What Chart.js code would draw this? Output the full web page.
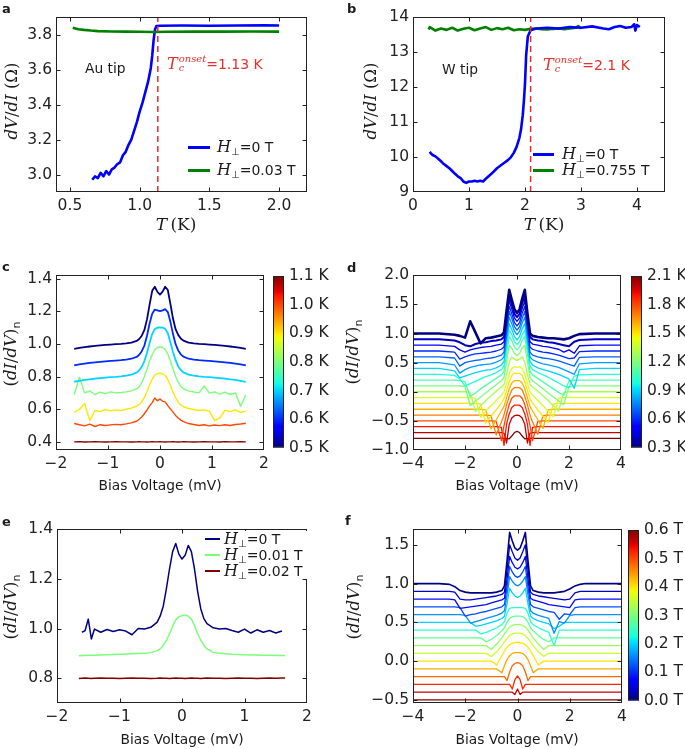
<!DOCTYPE html>
<html>
<head>
<meta charset="utf-8">
<script src="https://cdn.jsdelivr.net/npm/chart.js@4.4.1/dist/chart.umd.min.js"></script>
<style>
html, body { margin: 0; padding: 0; background: #fff; }
body { position: relative; width: 685px; height: 749px; overflow: hidden; font-family: "DejaVu Sans", sans-serif; color: #1a1a1a; }
canvas { position: absolute; }
.txt { position: absolute; white-space: nowrap; line-height: 1; font-size: 13.8px; }
.serif { font-family: "DejaVu Serif", serif; }
.mid { transform: translate(-50%, -50%); }
.lft { transform: translate(0, -50%); }
.rot { transform: translate(-50%, -50%) rotate(-90deg); }
.letter { font-weight: bold; font-size: 13px; }
.ylab { font-family: "DejaVu Serif", serif; font-size: 16.5px; }
.tlab { font-family: "DejaVu Serif", serif; font-size: 17px; }
.sn { font-family: "DejaVu Sans", sans-serif; font-size: 11px; position: relative; top: 4px; }
.perp { font-size: 10px; position: relative; top: 3px; }
.bigH { font-family: "DejaVu Serif", serif; font-size: 16px; }
.ss { display: inline-flex; flex-direction: column; font-family: "DejaVu Serif", serif; font-size: 10px; line-height: 9px; position: relative; top: -7px; margin-left: 1px; }
.red { color: #e8302a; font-size: 14px; }
.leg { font-size: 14px; }
</style>
</head>
<body>
<script>
// ---- panel a: Au tip, dV/dI vs T
const aTBlue = [0.66, 0.68, 0.70, 0.72, 0.74, 0.76, 0.78, 0.80, 0.82, 0.84, 0.86, 0.88, 0.90, 0.92, 0.94, 0.96, 0.98, 1.00, 1.02, 1.04, 1.06, 1.08, 1.09, 1.10, 1.11, 1.12, 1.15, 1.30, 1.50, 1.70, 1.90, 2.00];
const aBlue = [2.97, 2.99, 2.98, 3.01, 2.99, 3.02, 3.00, 3.03, 3.04, 3.06, 3.07, 3.11, 3.13, 3.17, 3.20, 3.25, 3.30, 3.36, 3.41, 3.47, 3.53, 3.61, 3.68, 3.77, 3.83, 3.85, 3.852, 3.853, 3.852, 3.853, 3.854, 3.853];
const aTGreen = [0.52, 0.54, 0.56, 0.60, 0.65, 0.70, 0.80, 0.90, 1.00, 1.10, 1.20, 1.40, 1.60, 1.80, 2.00];
const aGreen = [3.840, 3.836, 3.832, 3.828, 3.824, 3.821, 3.819, 3.818, 3.817, 3.816, 3.817, 3.818, 3.818, 3.819, 3.818];
const aTc = 1.13;
const aXTicks = [0.5, 1.0, 1.5, 2.0], aXLabels = ['0.5', '1.0', '1.5', '2.0'];
const aYTicks = [3.0, 3.2, 3.4, 3.6, 3.8], aYLabels = ['3.0', '3.2', '3.4', '3.6', '3.8'];

// ---- panel b: W tip
const bTBlue = [0.30, 0.32, 0.35, 0.40, 0.45, 0.50, 0.55, 0.60, 0.65, 0.70, 0.75, 0.80, 0.85, 0.90, 0.95, 1.00, 1.05, 1.10, 1.15, 1.20, 1.25, 1.30, 1.40, 1.50, 1.60, 1.65, 1.70, 1.75, 1.80, 1.85, 1.90, 1.93, 1.96, 1.98, 2.00, 2.02, 2.05, 2.10, 2.20, 2.40, 2.60, 2.80, 3.00, 3.20, 3.40, 3.50, 3.60, 3.70, 3.80, 3.90, 3.95, 3.97, 4.00, 4.05];
const bBlue = [10.15, 10.10, 10.06, 10.02, 9.95, 9.88, 9.80, 9.74, 9.68, 9.60, 9.52, 9.45, 9.40, 9.30, 9.26, 9.30, 9.30, 9.32, 9.30, 9.32, 9.30, 9.38, 9.52, 9.68, 9.80, 9.86, 9.92, 10.00, 10.12, 10.29, 10.55, 10.80, 11.20, 11.60, 12.10, 12.90, 13.45, 13.63, 13.68, 13.70, 13.68, 13.72, 13.70, 13.74, 13.68, 13.66, 13.72, 13.75, 13.70, 13.72, 13.80, 13.62, 13.78, 13.72];
const bTGreen = [0.28, 0.30, 0.40, 0.50, 0.60, 0.70, 0.80, 0.90, 1.00, 1.10, 1.20, 1.30, 1.40, 1.50, 1.60, 1.70, 1.80, 1.90, 2.00, 2.10, 2.20, 2.30, 2.40, 2.50, 2.60, 2.70, 2.80, 2.90, 2.95, 3.00];
const bGreen = [13.65, 13.72, 13.62, 13.68, 13.64, 13.70, 13.62, 13.67, 13.70, 13.63, 13.68, 13.72, 13.64, 13.69, 13.66, 13.70, 13.63, 13.66, 13.64, 13.67, 13.68, 13.66, 13.65, 13.67, 13.68, 13.66, 13.68, 13.70, 13.75, 13.68];
const bTc = 2.1;
const bXTicks = [0, 1, 2, 3, 4], bXLabels = ['0', '1', '2', '3', '4'];
const bYTicks = [9, 10, 11, 12, 13, 14], bYLabels = ['9', '10', '11', '12', '13', '14'];

// ---- panel c: spectra vs temperature (Au tip)
const cTemps = [0.5, 0.6, 0.7, 0.8, 0.9, 1.0, 1.1];
const cBias = [-1.65, -1.55, -1.45, -1.35, -1.25, -1.15, -1.05, -0.95, -0.85, -0.75, -0.65, -0.55, -0.45, -0.4, -0.35, -0.3, -0.25, -0.2, -0.15, -0.1, -0.05, 0, 0.05, 0.1, 0.15, 0.2, 0.25, 0.3, 0.35, 0.4, 0.45, 0.55, 0.65, 0.75, 0.85, 0.95, 1.05, 1.15, 1.25, 1.35, 1.45, 1.55, 1.65];
const cCurves = [
  [0.970, 0.975, 0.980, 0.984, 0.988, 0.991, 0.994, 0.996, 0.998, 1.000, 1.003, 1.008, 1.018, 1.030, 1.050, 1.085, 1.150, 1.240, 1.325, 1.350, 1.318, 1.302, 1.320, 1.350, 1.330, 1.245, 1.155, 1.090, 1.055, 1.033, 1.020, 1.008, 1.003, 1.000, 0.998, 0.996, 0.994, 0.991, 0.988, 0.984, 0.980, 0.975, 0.969],
  [0.868, 0.874, 0.879, 0.883, 0.887, 0.890, 0.893, 0.896, 0.898, 0.900, 0.903, 0.909, 0.920, 0.933, 0.955, 0.990, 1.050, 1.125, 1.185, 1.210, 1.205, 1.200, 1.205, 1.213, 1.195, 1.135, 1.060, 0.998, 0.960, 0.936, 0.922, 0.909, 0.903, 0.900, 0.898, 0.896, 0.893, 0.890, 0.887, 0.883, 0.879, 0.874, 0.868],
  [0.768, 0.774, 0.779, 0.783, 0.787, 0.790, 0.793, 0.796, 0.798, 0.801, 0.805, 0.812, 0.824, 0.838, 0.860, 0.895, 0.945, 1.005, 1.060, 1.090, 1.100, 1.101, 1.100, 1.092, 1.065, 1.010, 0.950, 0.900, 0.862, 0.840, 0.825, 0.812, 0.805, 0.801, 0.798, 0.796, 0.793, 0.790, 0.787, 0.783, 0.779, 0.774, 0.767],
  [0.688, 0.795, 0.700, 0.712, 0.690, 0.704, 0.695, 0.706, 0.700, 0.702, 0.706, 0.712, 0.724, 0.738, 0.762, 0.800, 0.845, 0.895, 0.935, 0.964, 0.978, 0.981, 0.978, 0.966, 0.938, 0.895, 0.848, 0.802, 0.765, 0.740, 0.725, 0.712, 0.705, 0.700, 0.742, 0.698, 0.706, 0.692, 0.704, 0.690, 0.700, 0.618, 0.688],
  [0.580, 0.598, 0.635, 0.530, 0.592, 0.585, 0.598, 0.590, 0.596, 0.592, 0.600, 0.606, 0.618, 0.628, 0.645, 0.672, 0.708, 0.748, 0.785, 0.808, 0.818, 0.820, 0.817, 0.806, 0.782, 0.745, 0.705, 0.670, 0.643, 0.626, 0.615, 0.604, 0.598, 0.592, 0.596, 0.588, 0.530, 0.545, 0.594, 0.585, 0.596, 0.580, 0.588],
  [0.512, 0.505, 0.498, 0.508, 0.494, 0.505, 0.500, 0.504, 0.507, 0.505, 0.510, 0.516, 0.526, 0.538, 0.552, 0.572, 0.595, 0.620, 0.640, 0.668, 0.652, 0.662, 0.648, 0.645, 0.622, 0.602, 0.582, 0.562, 0.546, 0.533, 0.524, 0.512, 0.506, 0.500, 0.505, 0.498, 0.503, 0.499, 0.505, 0.500, 0.506, 0.509, 0.514],
  [0.400, 0.401, 0.399, 0.400, 0.401, 0.400, 0.399, 0.400, 0.401, 0.400, 0.400, 0.399, 0.400, 0.401, 0.400, 0.400, 0.399, 0.400, 0.401, 0.400, 0.400, 0.401, 0.400, 0.399, 0.400, 0.400, 0.401, 0.400, 0.399, 0.400, 0.401, 0.400, 0.399, 0.400, 0.401, 0.400, 0.400, 0.399, 0.401, 0.400, 0.400, 0.401, 0.400]
];
const cXTicks = [-2, -1, 0, 1, 2], cXLabels = ['\u22122', '\u22121', '0', '1', '2'];
const cYTicks = [0.4, 0.6, 0.8, 1.0, 1.2, 1.4], cYLabels = ['0.4', '0.6', '0.8', '1.0', '1.2', '1.4'];
const cBarTicks = [0.5, 0.6, 0.7, 0.8, 0.9, 1.0, 1.1], cBarLabels = ['0.5 K', '0.6 K', '0.7 K', '0.8 K', '0.9 K', '1.0 K', '1.1 K'];

// ---- panel d: spectra vs temperature (W tip), offset curves
const dTemps = [0.3, 0.4, 0.5, 0.6, 0.7, 0.8, 0.9, 1.0, 1.1, 1.2, 1.3, 1.4, 1.5, 1.6, 1.7, 1.8, 1.9, 2.0, 2.1];
const dBias = [-4, -3, -2.4, -2.2, -2.0, -1.8, -1.6, -1.4, -1.2, -1.0, -0.8, -0.6, -0.5, -0.4, -0.3, -0.2, -0.1, 0, 0.1, 0.2, 0.3, 0.4, 0.5, 0.6, 0.8, 1.0, 1.2, 1.4, 1.6, 1.8, 2.0, 2.2, 2.4, 3, 4];
const dCurves = [
  [1.00, 1.00, 0.98, 0.96, 0.93, 1.21, 1.02, 0.83, 0.92, 0.93, 0.95, 0.97, 1.02, 1.40, 1.75, 1.58, 1.42, 1.35, 1.42, 1.60, 1.75, 1.35, 1.00, 0.96, 0.94, 0.93, 0.92, 0.92, 0.91, 0.90, 0.92, 0.96, 0.99, 1.00, 1.00],
  [0.90, 0.90, 0.88, 0.85, 0.80, 0.78, 0.82, 0.84, 0.85, 0.87, 0.88, 0.90, 0.94, 1.30, 1.65, 1.50, 1.34, 1.28, 1.34, 1.52, 1.65, 1.28, 0.94, 0.90, 0.88, 0.87, 0.85, 0.84, 0.82, 0.80, 0.78, 0.86, 0.89, 0.90, 0.90],
  [0.80, 0.80, 0.78, 0.72, 0.68, 0.72, 0.74, 0.76, 0.77, 0.78, 0.80, 0.82, 0.86, 1.22, 1.56, 1.42, 1.27, 1.21, 1.27, 1.43, 1.56, 1.20, 0.86, 0.82, 0.80, 0.78, 0.77, 0.75, 0.73, 0.68, 0.72, 0.66, 0.79, 0.80, 0.80],
  [0.70, 0.70, 0.68, 0.56, 0.60, 0.63, 0.65, 0.66, 0.67, 0.68, 0.70, 0.73, 0.77, 1.12, 1.47, 1.34, 1.19, 1.13, 1.19, 1.35, 1.47, 1.12, 0.77, 0.73, 0.70, 0.68, 0.67, 0.65, 0.63, 0.60, 0.57, 0.58, 0.69, 0.70, 0.70],
  [0.60, 0.60, 0.58, 0.44, 0.50, 0.52, 0.54, 0.55, 0.57, 0.58, 0.60, 0.63, 0.68, 1.03, 1.38, 1.26, 1.12, 1.06, 1.12, 1.26, 1.38, 1.03, 0.68, 0.63, 0.60, 0.58, 0.57, 0.55, 0.53, 0.50, 0.47, 0.44, 0.59, 0.60, 0.60],
  [0.50, 0.50, 0.46, 0.32, 0.38, 0.42, 0.44, 0.46, 0.47, 0.48, 0.51, 0.55, 0.60, 0.94, 1.28, 1.17, 1.04, 0.98, 1.04, 1.18, 1.28, 0.94, 0.60, 0.55, 0.51, 0.48, 0.46, 0.44, 0.42, 0.38, 0.34, 0.30, 0.48, 0.50, 0.50],
  [0.40, 0.40, 0.36, 0.24, 0.27, 0.30, 0.33, 0.35, 0.37, 0.38, 0.41, 0.46, 0.52, 0.85, 1.17, 1.07, 0.95, 0.89, 0.95, 1.08, 1.17, 0.85, 0.52, 0.46, 0.41, 0.38, 0.36, 0.33, 0.30, 0.26, 0.22, 0.06, 0.38, 0.40, 0.40],
  [0.30, 0.30, 0.28, 0.22, 0.10, 0.14, 0.18, 0.22, 0.26, 0.29, 0.33, 0.38, 0.44, 0.76, 1.06, 0.98, 0.86, 0.81, 0.86, 0.98, 1.06, 0.76, 0.44, 0.38, 0.33, 0.29, 0.25, 0.20, 0.15, 0.10, 0.07, 0.27, 0.29, 0.30, 0.30],
  [0.20, 0.20, 0.20, 0.19, 0.17, -0.08, -0.02, 0.05, 0.11, 0.17, 0.23, 0.29, 0.35, 0.66, 0.95, 0.88, 0.77, 0.72, 0.77, 0.88, 0.95, 0.66, 0.35, 0.29, 0.23, 0.17, 0.11, 0.05, -0.01, -0.06, 0.19, 0.20, 0.20, 0.20, 0.20],
  [0.10, 0.10, 0.10, 0.10, 0.09, -0.24, -0.16, -0.09, -0.02, 0.05, 0.12, 0.19, 0.25, 0.52, 0.80, 0.75, 0.66, 0.62, 0.66, 0.75, 0.80, 0.52, 0.25, 0.19, 0.12, 0.05, -0.02, -0.09, -0.16, -0.22, 0.09, 0.10, 0.10, 0.10, 0.10],
  [0.00, 0.00, 0.00, 0.00, 0.00, -0.01, -0.34, -0.24, -0.15, -0.07, 0.01, 0.08, 0.13, 0.30, 0.50, 0.60, 0.56, 0.54, 0.56, 0.60, 0.50, 0.30, 0.13, 0.08, 0.01, -0.07, -0.15, -0.24, -0.33, -0.01, 0.00, 0.00, 0.00, 0.00, 0.00],
  [-0.10, -0.10, -0.10, -0.10, -0.10, -0.10, -0.11, -0.44, -0.33, -0.24, -0.15, -0.06, 0.00, 0.14, 0.30, 0.40, 0.43, 0.42, 0.43, 0.40, 0.30, 0.14, 0.00, -0.06, -0.15, -0.24, -0.33, -0.43, -0.11, -0.10, -0.10, -0.10, -0.10, -0.10, -0.10],
  [-0.20, -0.20, -0.20, -0.20, -0.20, -0.20, -0.20, -0.21, -0.54, -0.42, -0.31, -0.19, -0.12, 0.02, 0.17, 0.28, 0.32, 0.31, 0.32, 0.28, 0.17, 0.02, -0.12, -0.19, -0.31, -0.42, -0.53, -0.21, -0.20, -0.20, -0.20, -0.20, -0.20, -0.20, -0.20],
  [-0.30, -0.30, -0.30, -0.30, -0.30, -0.30, -0.30, -0.30, -0.31, -0.64, -0.48, -0.33, -0.25, -0.10, 0.05, 0.15, 0.19, 0.19, 0.19, 0.15, 0.05, -0.10, -0.25, -0.33, -0.48, -0.63, -0.31, -0.30, -0.30, -0.30, -0.30, -0.30, -0.30, -0.30, -0.30],
  [-0.40, -0.40, -0.40, -0.40, -0.40, -0.40, -0.40, -0.40, -0.40, -0.41, -0.74, -0.52, -0.40, -0.22, -0.08, 0.03, 0.07, 0.07, 0.07, 0.03, -0.08, -0.22, -0.40, -0.52, -0.73, -0.41, -0.40, -0.40, -0.40, -0.40, -0.40, -0.40, -0.40, -0.40, -0.40],
  [-0.50, -0.50, -0.50, -0.50, -0.50, -0.50, -0.50, -0.50, -0.50, -0.50, -0.51, -0.84, -0.58, -0.38, -0.22, -0.11, -0.07, -0.07, -0.07, -0.11, -0.22, -0.38, -0.58, -0.84, -0.51, -0.50, -0.50, -0.50, -0.50, -0.50, -0.50, -0.50, -0.50, -0.50, -0.50],
  [-0.60, -0.60, -0.60, -0.60, -0.60, -0.60, -0.60, -0.60, -0.60, -0.60, -0.60, -0.61, -0.92, -0.55, -0.38, -0.27, -0.23, -0.23, -0.23, -0.27, -0.38, -0.55, -0.92, -0.61, -0.60, -0.60, -0.60, -0.60, -0.60, -0.60, -0.60, -0.60, -0.60, -0.60, -0.60],
  [-0.70, -0.70, -0.70, -0.70, -0.70, -0.70, -0.70, -0.70, -0.70, -0.70, -0.70, -0.70, -0.71, -0.88, -0.56, -0.45, -0.41, -0.40, -0.41, -0.45, -0.56, -0.88, -0.71, -0.70, -0.70, -0.70, -0.70, -0.70, -0.70, -0.70, -0.70, -0.70, -0.70, -0.70, -0.70],
  [-0.80, -0.80, -0.80, -0.80, -0.80, -0.80, -0.80, -0.80, -0.80, -0.80, -0.80, -0.80, -0.80, -0.80, -0.81, -0.76, -0.70, -0.68, -0.70, -0.76, -0.81, -0.80, -0.80, -0.80, -0.80, -0.80, -0.80, -0.80, -0.80, -0.80, -0.80, -0.80, -0.80, -0.80, -0.80]
];
const dXTicks = [-4, -2, 0, 2, 4], dXLabels = ['\u22124', '\u22122', '0', '2', '4'];
const dYTicks = [-1.0, -0.5, 0.0, 0.5, 1.0, 1.5, 2.0], dYLabels = ['\u22121.0', '\u22120.5', '0.0', '0.5', '1.0', '1.5', '2.0'];
const dBarTicks = [0.3, 0.6, 0.9, 1.2, 1.5, 1.8, 2.1], dBarLabels = ['0.3 K', '0.6 K', '0.9 K', '1.2 K', '1.5 K', '1.8 K', '2.1 K'];

// ---- panel e: spectra vs field (Au tip)
const eFields = [0, 0.01, 0.02];
const eNames = ['=0 T', '=0.01 T', '=0.02 T'];
const eBias = [-1.65, -1.6, -1.55, -1.5, -1.45, -1.4, -1.3, -1.2, -1.1, -1.0, -0.9, -0.8, -0.7, -0.6, -0.5, -0.4, -0.35, -0.3, -0.25, -0.2, -0.15, -0.1, -0.05, 0, 0.05, 0.1, 0.15, 0.2, 0.25, 0.3, 0.35, 0.4, 0.5, 0.6, 0.7, 0.8, 0.9, 1.0, 1.1, 1.2, 1.3, 1.4, 1.5, 1.6, 1.65];
const eCurves = [
  [null, 0.985, 0.992, 1.038, 0.958, 0.998, 0.985, 0.996, 0.988, 0.995, 0.990, 0.975, 1.000, 0.998, 1.005, 1.025, 1.050, 1.090, 1.160, 1.240, 1.310, 1.343, 1.300, 1.280, 1.295, 1.335, 1.310, 1.240, 1.150, 1.080, 1.040, 1.020, 1.003, 0.998, 1.000, 0.992, 0.985, 0.998, 0.982, 0.995, 0.985, 0.992, 0.982, 0.990, null],
  [0.890, 0.891, 0.891, 0.892, 0.892, 0.892, 0.893, 0.894, 0.895, 0.896, 0.897, 0.898, 0.899, 0.900, 0.903, 0.910, 0.918, 0.932, 0.952, 0.978, 1.010, 1.035, 1.048, 1.052, 1.055, 1.050, 1.038, 1.012, 0.980, 0.953, 0.933, 0.918, 0.904, 0.900, 0.898, 0.896, 0.895, 0.894, 0.893, 0.893, 0.892, 0.892, 0.891, 0.891, 0.891],
  [0.799, 0.800, 0.801, 0.800, 0.799, 0.800, 0.801, 0.800, 0.800, 0.799, 0.800, 0.801, 0.800, 0.800, 0.799, 0.800, 0.801, 0.800, 0.800, 0.799, 0.800, 0.801, 0.800, 0.800, 0.799, 0.800, 0.801, 0.800, 0.800, 0.799, 0.800, 0.801, 0.800, 0.800, 0.799, 0.800, 0.801, 0.800, 0.800, 0.799, 0.800, 0.801, 0.800, 0.801, 0.801]
];
const eXTicks = [-2, -1, 0, 1, 2], eXLabels = ['\u22122', '\u22121', '0', '1', '2'];
const eYTicks = [0.8, 1.0, 1.2, 1.4], eYLabels = ['0.8', '1.0', '1.2', '1.4'];

// ---- panel f: spectra vs field (W tip), offset curves
const fFields = [0, 0.04, 0.08, 0.12, 0.16, 0.20, 0.24, 0.28, 0.32, 0.36, 0.40, 0.44, 0.48, 0.52, 0.56, 0.60];
const fBias = [-4, -3, -2.6, -2.4, -2.2, -2.0, -1.8, -1.6, -1.4, -1.2, -1.0, -0.8, -0.6, -0.5, -0.4, -0.3, -0.2, -0.1, 0, 0.1, 0.2, 0.3, 0.4, 0.5, 0.6, 0.8, 1.0, 1.2, 1.4, 1.6, 1.8, 2.0, 2.2, 2.4, 2.6, 3, 4];
const fCurves = [
  [1.00, 1.00, 0.99, 0.96, 0.91, 0.89, 0.88, 0.88, 0.88, 0.88, 0.88, 0.89, 0.91, 0.97, 1.30, 1.66, 1.55, 1.46, 1.43, 1.46, 1.55, 1.66, 1.30, 0.97, 0.91, 0.89, 0.88, 0.88, 0.88, 0.89, 0.90, 0.93, 0.97, 0.99, 1.00, 1.00, 1.00],
  [0.90, 0.90, 0.90, 0.89, 0.80, 0.79, 0.79, 0.80, 0.81, 0.82, 0.83, 0.84, 0.86, 0.89, 1.18, 1.50, 1.41, 1.33, 1.30, 1.33, 1.41, 1.50, 1.18, 0.89, 0.86, 0.84, 0.83, 0.82, 0.81, 0.80, 0.79, 0.80, 0.88, 0.90, 0.90, 0.90, 0.90],
  [0.80, 0.80, 0.80, 0.79, 0.68, 0.69, 0.70, 0.71, 0.72, 0.73, 0.75, 0.77, 0.79, 0.81, 1.06, 1.35, 1.27, 1.21, 1.19, 1.21, 1.27, 1.35, 1.06, 0.81, 0.79, 0.77, 0.75, 0.73, 0.72, 0.71, 0.70, 0.69, 0.79, 0.80, 0.80, 0.80, 0.80],
  [0.70, 0.70, 0.70, 0.70, 0.69, 0.58, 0.60, 0.61, 0.63, 0.64, 0.66, 0.68, 0.70, 0.73, 0.95, 1.22, 1.15, 1.10, 1.08, 1.10, 1.15, 1.22, 0.95, 0.73, 0.70, 0.68, 0.66, 0.64, 0.63, 0.54, 0.61, 0.60, 0.69, 0.70, 0.70, 0.70, 0.70],
  [0.60, 0.60, 0.60, 0.60, 0.60, 0.59, 0.49, 0.51, 0.53, 0.55, 0.57, 0.59, 0.62, 0.65, 0.85, 1.09, 1.03, 0.99, 0.97, 0.99, 1.03, 1.09, 0.85, 0.65, 0.62, 0.59, 0.57, 0.55, 0.36, 0.51, 0.49, 0.59, 0.60, 0.60, 0.60, 0.60, 0.60],
  [0.50, 0.50, 0.50, 0.50, 0.50, 0.50, 0.50, 0.45, 0.46, 0.48, 0.50, 0.52, 0.55, 0.58, 0.74, 0.94, 0.88, 0.84, 0.82, 0.84, 0.88, 0.94, 0.74, 0.58, 0.55, 0.52, 0.50, 0.48, 0.42, 0.45, 0.50, 0.50, 0.50, 0.50, 0.50, 0.50, 0.50],
  [0.40, 0.40, 0.40, 0.40, 0.40, 0.40, 0.40, 0.40, 0.35, 0.37, 0.40, 0.43, 0.47, 0.51, 0.62, 0.68, 0.69, 0.69, 0.69, 0.69, 0.69, 0.68, 0.62, 0.51, 0.47, 0.43, 0.40, 0.37, 0.20, 0.40, 0.40, 0.40, 0.40, 0.40, 0.40, 0.40, 0.40],
  [0.30, 0.30, 0.30, 0.30, 0.30, 0.30, 0.30, 0.30, 0.30, 0.25, 0.28, 0.33, 0.39, 0.43, 0.50, 0.55, 0.57, 0.58, 0.58, 0.58, 0.57, 0.55, 0.50, 0.43, 0.39, 0.33, 0.28, 0.25, 0.30, 0.30, 0.30, 0.30, 0.30, 0.30, 0.30, 0.30, 0.30],
  [0.20, 0.20, 0.20, 0.20, 0.20, 0.20, 0.20, 0.20, 0.20, 0.20, 0.15, 0.22, 0.30, 0.35, 0.40, 0.44, 0.46, 0.47, 0.47, 0.47, 0.46, 0.44, 0.40, 0.35, 0.30, 0.22, 0.15, 0.20, 0.20, 0.20, 0.20, 0.20, 0.20, 0.20, 0.20, 0.20, 0.20],
  [0.10, 0.10, 0.10, 0.10, 0.10, 0.10, 0.10, 0.10, 0.10, 0.10, 0.06, 0.12, 0.20, 0.25, 0.29, 0.33, 0.35, 0.36, 0.36, 0.36, 0.35, 0.33, 0.29, 0.25, 0.20, 0.12, 0.06, 0.10, 0.10, 0.10, 0.10, 0.10, 0.10, 0.10, 0.10, 0.10, 0.10],
  [0.00, 0.00, 0.00, 0.00, 0.00, 0.00, 0.00, 0.00, 0.00, 0.00, 0.00, -0.05, 0.07, 0.13, 0.18, 0.21, 0.23, 0.24, 0.24, 0.24, 0.23, 0.21, 0.18, 0.13, 0.07, -0.05, 0.00, 0.00, 0.00, 0.00, 0.00, 0.00, 0.00, 0.00, 0.00, 0.00, 0.00],
  [-0.10, -0.10, -0.10, -0.10, -0.10, -0.10, -0.10, -0.10, -0.10, -0.10, -0.10, -0.10, -0.15, -0.06, 0.02, 0.07, 0.10, 0.11, 0.11, 0.11, 0.10, 0.07, 0.02, -0.06, -0.15, -0.10, -0.10, -0.10, -0.10, -0.10, -0.10, -0.10, -0.10, -0.10, -0.10, -0.10, -0.10],
  [-0.20, -0.20, -0.20, -0.20, -0.20, -0.20, -0.20, -0.20, -0.20, -0.20, -0.20, -0.20, -0.20, -0.20, -0.25, -0.14, -0.06, -0.03, -0.02, -0.03, -0.06, -0.14, -0.25, -0.20, -0.20, -0.20, -0.20, -0.20, -0.20, -0.20, -0.20, -0.20, -0.20, -0.20, -0.20, -0.20, -0.20],
  [-0.30, -0.30, -0.30, -0.30, -0.30, -0.30, -0.30, -0.30, -0.30, -0.30, -0.30, -0.30, -0.30, -0.30, -0.30, -0.30, -0.36, -0.24, -0.19, -0.24, -0.36, -0.30, -0.30, -0.30, -0.30, -0.30, -0.30, -0.30, -0.30, -0.30, -0.30, -0.30, -0.30, -0.30, -0.30, -0.30, -0.30],
  [-0.40, -0.40, -0.40, -0.40, -0.40, -0.40, -0.40, -0.40, -0.40, -0.40, -0.40, -0.40, -0.40, -0.40, -0.40, -0.40, -0.40, -0.43, -0.36, -0.43, -0.40, -0.40, -0.40, -0.40, -0.40, -0.40, -0.40, -0.40, -0.40, -0.40, -0.40, -0.40, -0.40, -0.40, -0.40, -0.40, -0.40],
  [-0.50, -0.50, -0.50, -0.50, -0.50, -0.50, -0.50, -0.50, -0.50, -0.50, -0.50, -0.50, -0.50, -0.50, -0.50, -0.50, -0.50, -0.50, -0.50, -0.50, -0.50, -0.50, -0.50, -0.50, -0.50, -0.50, -0.50, -0.50, -0.50, -0.50, -0.50, -0.50, -0.50, -0.50, -0.50, -0.50, -0.50]
];
const fXTicks = [-4, -2, 0, 2, 4], fXLabels = ['\u22124', '\u22122', '0', '2', '4'];
const fYTicks = [-0.5, 0.0, 0.5, 1.0, 1.5], fYLabels = ['\u22120.5', '0.0', '0.5', '1.0', '1.5'];
const fBarTicks = [0, 0.1, 0.2, 0.3, 0.4, 0.5, 0.6], fBarLabels = ['0.0 T', '0.1 T', '0.2 T', '0.3 T', '0.4 T', '0.5 T', '0.6 T'];

// ---- layout (pixel rectangles of plot areas: left, top, right, bottom)
const PAD = {l: 54, t: 12, r: 18, b: 30};
const INK = '#222222';
const TICK_FONT = {family: 'DejaVu Sans', size: 15.5};

// matplotlib "jet" colormap
function jet(v) {
  const seg = {
    r: [[0, 0], [0.35, 0], [0.66, 1], [0.89, 1], [1, 0.5]],
    g: [[0, 0], [0.125, 0], [0.375, 1], [0.64, 1], [0.91, 0], [1, 0]],
    b: [[0, 0.5], [0.11, 1], [0.34, 1], [0.65, 0], [1, 0]]
  };
  function ch(s) {
    for (let k = 1; k < s.length; k++) {
      if (v <= s[k][0]) {
        const t = (v - s[k - 1][0]) / (s[k][0] - s[k - 1][0]);
        return s[k - 1][1] + t * (s[k][1] - s[k - 1][1]);
      }
    }
    return s[s.length - 1][1];
  }
  return 'rgb(' + Math.round(255 * ch(seg.r)) + ',' + Math.round(255 * ch(seg.g)) + ',' + Math.round(255 * ch(seg.b)) + ')';
}

// frame with inward ticks on all four sides (classic matplotlib look)
const framePlugin = {
  id: 'frame',
  afterDatasetsDraw(chart) {
    const ctx = chart.ctx, a = chart.chartArea, sx = chart.scales.x, sy = chart.scales.y;
    const L = Math.round(a.left) + 0.5, R = Math.round(a.right) - 0.5, T = Math.round(a.top) + 0.5, B = Math.round(a.bottom) - 0.5;
    const tl = 4;
    ctx.save();
    ctx.strokeStyle = INK;
    ctx.lineWidth = 1;
    ctx.strokeRect(L, T, R - L, B - T);
    ctx.beginPath();
    sx.ticks.forEach(function (t) {
      const px = Math.round(sx.getPixelForValue(t.value)) + 0.5;
      if (px <= L + 1 || px >= R - 1) return;
      ctx.moveTo(px, B); ctx.lineTo(px, B - tl);
      ctx.moveTo(px, T); ctx.lineTo(px, T + tl);
    });
    sy.ticks.forEach(function (t) {
      const py = Math.round(sy.getPixelForValue(t.value)) + 0.5;
      if (py <= T + 1 || py >= B - 1) return;
      ctx.moveTo(L, py); ctx.lineTo(L + tl, py);
      ctx.moveTo(R, py); ctx.lineTo(R - tl, py);
    });
    ctx.stroke();
    ctx.restore();
  }
};

// vertical jet gradient for colorbars
const barPlugin = {
  id: 'jetbar',
  beforeDatasetsDraw(chart) {
    const ctx = chart.ctx, a = chart.chartArea;
    const g = ctx.createLinearGradient(0, a.bottom, 0, a.top);
    for (let k = 0; k <= 64; k++) g.addColorStop(k / 64, jet(k / 64));
    ctx.save();
    ctx.fillStyle = g;
    ctx.fillRect(a.left, a.top, a.right - a.left, a.bottom - a.top);
    ctx.strokeStyle = INK;
    ctx.lineWidth = 1;
    ctx.strokeRect(Math.round(a.left) + 0.5, Math.round(a.top) + 0.5, Math.round(a.right - a.left) - 1, Math.round(a.bottom - a.top) - 1);
    ctx.restore();
  }
};

function series(xs, ys, color, width, extra) {
  return Object.assign({
    data: xs.map(function (x, i) { return {x: x, y: ys[i]}; }),
    borderColor: color,
    borderWidth: width,
    pointRadius: 0,
    fill: false
  }, extra || {});
}

function makeCanvas(left, top, w, h) {
  const cv = document.createElement('canvas');
  cv.width = w; cv.height = h;
  cv.style.left = left + 'px';
  cv.style.top = top + 'px';
  document.body.appendChild(cv);
  return cv;
}

function panel(rect, xr, yr, xTicks, xLabels, yTicks, yLabels, datasets) {
  const w = rect[2] - rect[0], h = rect[3] - rect[1];
  const cv = makeCanvas(rect[0] - PAD.l, rect[1] - PAD.t, w + PAD.l + PAD.r, h + PAD.t + PAD.b);
  return new Chart(cv, {
    type: 'line',
    data: {datasets: datasets},
    options: {
      responsive: false, animation: false, devicePixelRatio: 1, events: [],
      layout: {padding: {left: 0, top: PAD.t, right: PAD.r, bottom: 0}},
      plugins: {legend: {display: false}, tooltip: {enabled: false}},
      elements: {line: {tension: 0, borderJoinStyle: 'round'}, point: {radius: 0}},
      scales: {
        x: {
          type: 'linear', min: xr[0], max: xr[1],
          afterBuildTicks: function (s) { s.ticks = xTicks.map(function (v) { return {value: v}; }); },
          afterFit: function (s) { s.height = PAD.b; },
          grid: {display: false, drawTicks: false}, border: {display: false},
          ticks: {font: TICK_FONT, color: INK, padding: 5, maxRotation: 0, autoSkip: false,
                  callback: function (v, i) { return xLabels[i]; }}
        },
        y: {
          type: 'linear', min: yr[0], max: yr[1],
          afterBuildTicks: function (s) { s.ticks = yTicks.map(function (v) { return {value: v}; }); },
          afterFit: function (s) { s.width = PAD.l; },
          grid: {display: false, drawTicks: false}, border: {display: false},
          ticks: {font: TICK_FONT, color: INK, padding: 4, autoSkip: false,
                  callback: function (v, i) { return yLabels[i]; }}
        }
      }
    },
    plugins: [framePlugin]
  });
}

function colorbar(rect, range, ticks, labels) {
  const w = rect[2] - rect[0], h = rect[3] - rect[1];
  const right = 56;
  const cv = makeCanvas(rect[0] - 2, rect[1] - 12, w + 2 + right, h + 24);
  return new Chart(cv, {
    type: 'line',
    data: {datasets: [{data: []}]},
    options: {
      responsive: false, animation: false, devicePixelRatio: 1, events: [],
      layout: {padding: {left: 2, top: 12, right: 0, bottom: 12}},
      plugins: {legend: {display: false}, tooltip: {enabled: false}},
      scales: {
        x: {type: 'linear', display: false, min: 0, max: 1},
        y: {
          type: 'linear', position: 'right', min: range[0], max: range[1],
          afterBuildTicks: function (s) { s.ticks = ticks.map(function (v) { return {value: v}; }); },
          afterFit: function (s) { s.width = right; },
          grid: {display: false, drawTicks: false}, border: {display: false},
          ticks: {font: TICK_FONT, color: INK, padding: 5, autoSkip: false,
                  callback: function (v, i) { return labels[i]; }}
        }
      }
    },
    plugins: [barPlugin]
  });
}

function addText(html, x, y, cls) {
  const el = document.createElement('div');
  el.className = 'txt ' + cls;
  el.style.left = x + 'px';
  el.style.top = y + 'px';
  el.innerHTML = html;
  document.body.appendChild(el);
  return el;
}

function legendLine(x1, x2, y, color, width) {
  const el = document.createElement('div');
  el.style.cssText = 'position:absolute;left:' + x1 + 'px;top:' + (y - width / 2) + 'px;width:' + (x2 - x1) + 'px;height:' + width + 'px;background:' + color;
  document.body.appendChild(el);
}

const BLUE = '#0000ff', GREEN = '#008000', RED = '#ee2a2a';

// ---- a
panel([56, 16, 307, 192], [0.4, 2.2], [2.9, 3.9], aXTicks, aXLabels, aYTicks, aYLabels, [
  series([aTc, aTc], [2.9, 3.9], RED, 1.5, {borderDash: [6, 4], order: 0}),
  series(aTGreen, aGreen, GREEN, 2.6, {order: 1}),
  series(aTBlue, aBlue, BLUE, 2.6, {order: 2})
]);
// ---- b
panel([413, 16, 665, 192], [0, 4.5], [9, 14], bXTicks, bXLabels, bYTicks, bYLabels, [
  series([bTc, bTc], [9, 14], RED, 1.5, {borderDash: [6, 4], order: 0}),
  series(bTGreen, bGreen, GREEN, 2.6, {order: 2}),
  series(bTBlue, bBlue, BLUE, 2.6, {order: 1})
]);
// ---- c
panel([56, 274, 264, 450], [-2, 2], [0.35, 1.42], cXTicks, cXLabels, cYTicks, cYLabels,
  cCurves.map(function (ys, i) {
    return series(cBias, ys, jet((cTemps[i] - 0.5) / 0.6), i < 3 ? 1.8 : 1.4);
  }));
colorbar([273, 274, 284, 450], [0.5, 1.1], cBarTicks, cBarLabels);
// ---- d
panel([413, 274, 621, 450], [-4, 4], [-1.0, 2.0], dXTicks, dXLabels, dYTicks, dYLabels,
  dCurves.map(function (ys, i) {
    return series(dBias, ys, jet((dTemps[i] - 0.3) / 1.8), i === 0 ? 2.6 : (i === 1 ? 2.0 : 1.3));
  }));
colorbar([631, 274, 642, 450], [0.3, 2.1], dBarTicks, dBarLabels);
// ---- e
panel([57, 528, 307, 703], [-2, 2], [0.7, 1.4], eXTicks, eXLabels, eYTicks, eYLabels,
  eCurves.map(function (ys, i) {
    return series(eBias, ys, jet(eFields[i] / 0.02), 1.5);
  }));
// ---- f
panel([413, 528, 622, 703], [-4, 4], [-0.54, 1.7], fXTicks, fXLabels, fYTicks, fYLabels,
  fCurves.map(function (ys, i) {
    return series(fBias, ys, jet(fFields[i] / 0.6), i === 0 ? 1.6 : 1.3);
  }));
colorbar([628, 528, 639, 703], [0, 0.6], fBarTicks, fBarLabels);

// ---- texts
const dVdI = '<i>dV</i>/<i>dI</i>&nbsp;(\u03a9)';
const dIdV = '(<i>dI</i>/<i>dV</i>)<span class="sn">n</span>';
const TK = '<i>T</i>&thinsp;(K)';
const Hperp = '<span class="bigH"><i>H</i></span><span class="perp">\u22a5</span>';
const Tc = '<span class="bigH"><i>T</i></span><span class="ss"><i>onset</i><i>c</i></span>';

addText('a', 2, 8, 'letter lft');
addText('b', 347, 8, 'letter lft');
addText('c', 2, 266, 'letter lft');
addText('d', 347, 267, 'letter lft');
addText('e', 2, 521, 'letter lft');
addText('f', 345, 520, 'letter lft');

addText(dVdI, 12, 101, 'ylab rot');
addText(dVdI, 371, 101, 'ylab rot');
addText(TK, 176, 224, 'tlab mid');
addText(TK, 544, 224, 'tlab mid');

addText(dIdV, 11, 354, 'ylab rot');
addText(dIdV, 353, 352, 'ylab rot');
addText(dIdV, 11, 607, 'ylab rot');
addText(dIdV, 354, 607, 'ylab rot');
addText('Bias Voltage (mV)', 160, 486, 'mid');
addText('Bias Voltage (mV)', 517, 486, 'mid');
addText('Bias Voltage (mV)', 182, 740, 'mid');
addText('Bias Voltage (mV)', 517, 740, 'mid');

addText('Au tip', 85, 69, 'lft');
addText('W tip', 442, 70, 'lft');
addText(Tc + '=' + aTc.toFixed(2) + ' K', 167, 67, 'red lft');
addText(Tc + '=' + bTc.toFixed(1) + ' K', 543, 68, 'red lft');

// legends a, b
legendLine(188, 210, 147, BLUE, 3);
legendLine(188, 210, 170, GREEN, 3);
addText(Hperp + '=0 T', 217, 147, 'leg lft');
addText(Hperp + '=0.03 T', 217, 170, 'leg lft');
legendLine(533, 554, 154, BLUE, 3);
legendLine(533, 554, 170, GREEN, 3);
addText(Hperp + '=0 T', 562, 154, 'leg lft');
addText(Hperp + '=0.755 T', 562, 170, 'leg lft');

// legend e (white box over the right frame edge)
const box = document.createElement('div');
box.style.cssText = 'position:absolute;left:199px;top:531px;width:112px;height:48px;background:#fff';
document.body.appendChild(box);
eFields.forEach(function (f, i) {
  const y = 539 + i * 16;
  legendLine(205, 220, y, jet(f / 0.02), 1.5);
  addText(Hperp + eNames[i], 224, y, 'leg lft');
});
</script>
</body>
</html>
